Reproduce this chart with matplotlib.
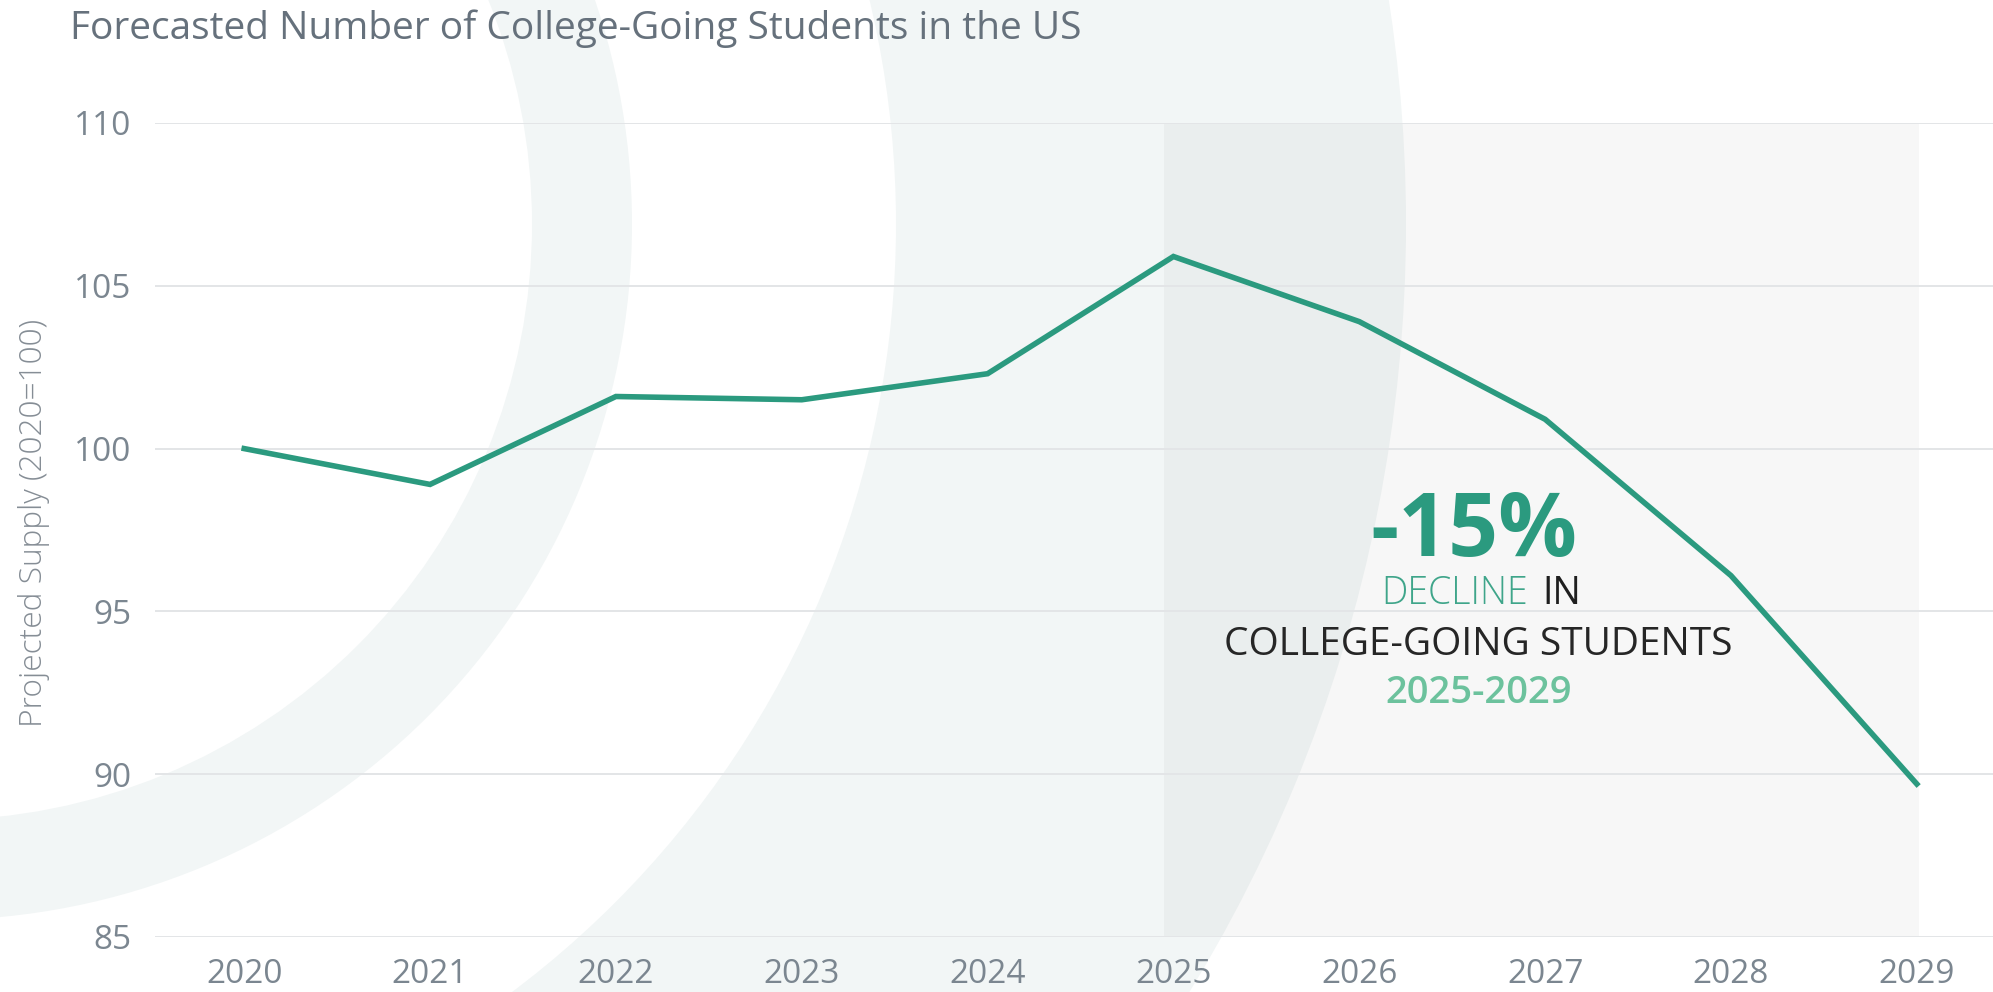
import matplotlib
matplotlib.use("Agg")
import matplotlib.pyplot as plt
from matplotlib.patches import Wedge
from matplotlib.transforms import Affine2D

# projected supply of college-going students, indexed to 2020 = 100
years = [2020, 2021, 2022, 2023, 2024, 2025, 2026, 2027, 2028, 2029]
supply = [100.0, 98.9, 101.6, 101.5, 102.3, 105.9, 103.9, 100.9, 96.1, 89.7]
y_ticks = [85, 90, 95, 100, 105, 110]
decline_start, decline_end = 2025, 2029

title = "Forecasted Number of College-Going Students in the US"
y_label = "Projected Supply (2020=100)"

TEAL = "#2b9a7f"
TICK_GREY = "#7b8690"

plt.rcParams["font.family"] = ["Open Sans", "DejaVu Sans"]

W, H = 1993, 992
fig = plt.figure(figsize=(W / 100, H / 100), dpi=100)
fig.patch.set_facecolor("white")

# pixel coordinates (origin bottom-left) -> figure
px = Affine2D().scale(1 / W, 1 / H) + fig.transFigure

# faint watermark arcs behind the chart
for r, w in [(696, 100), (1470, 510)]:
    fig.add_artist(Wedge((-64, 768), r, 0, 360, width=w, transform=px,
                         facecolor="#f2f6f6", edgecolor="none", zorder=-2))

ax = fig.add_axes([155 / W, 55 / H, 1 - 155 / W, 814 / H])
ax.set_facecolor("none")
ax.set_xlim(2019.52, 2029.41)
ax.set_ylim(85, 110)

ax.axvspan(decline_start - 0.05, decline_end + 0.01, color="black",
           alpha=0.03, lw=0, zorder=0)
ax.plot(years, supply, color=TEAL, lw=4.0, solid_joinstyle="miter", zorder=3)

ax.set_yticks(y_ticks)
ax.set_xticks(years)
ax.grid(axis="y", color="#e3e5e7", lw=1.4)
ax.set_axisbelow(True)
for s in ax.spines.values():
    s.set_visible(False)
ax.tick_params(axis="both", length=0, labelsize=24, colors=TICK_GREY)
ax.tick_params(axis="y", pad=17)
ax.tick_params(axis="x", pad=15)

fig.text(70 / W, 1 - 39 / H, title, fontsize=28, color="#66717c",
         ha="left", va="baseline")
fig.text(34 / W, 1 - 523 / H, y_label, fontsize=22.8, fontweight="light",
         color="#858d95", rotation=90, ha="center", va="center")

# decline callout
i0 = years.index(decline_start)
i1 = years.index(decline_end)
pct = round((supply[i1] / supply[i0] - 1) * 100)
ax.text(2026.615, 96.69, f"{pct}%", fontsize=63, fontweight="bold",
        color=TEAL, ha="center", va="baseline")
ax.text(2026.905, 95.22, "DECLINE", fontsize=27, fontweight="light",
        color="#3fa58a", ha="right", va="baseline")
ax.text(2026.986, 95.22, "IN", fontsize=27, color="#1f1f1f",
        ha="left", va="baseline")
ax.text(2026.64, 93.66, "COLLEGE-GOING STUDENTS", fontsize=28,
        color="#262626", ha="center", va="baseline")
ax.text(2026.64, 92.2, f"{decline_start}-{decline_end}", fontsize=27.5,
        fontweight="semibold", color="#6cc29d", ha="center", va="baseline")

fig.savefig("out.png", dpi=100)
